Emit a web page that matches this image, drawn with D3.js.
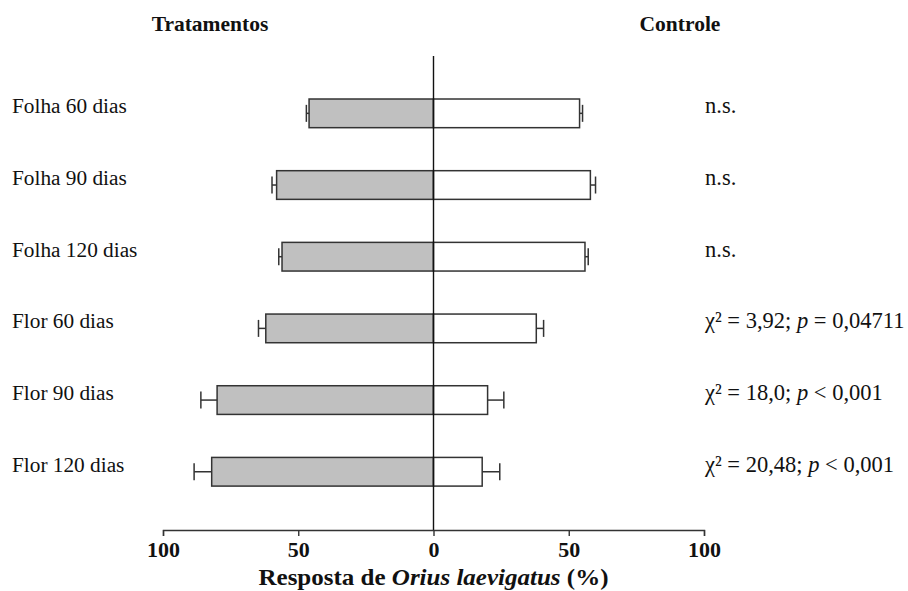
<!DOCTYPE html>
<html>
<head>
<meta charset="utf-8">
<script src="https://cdn.jsdelivr.net/npm/d3@7/dist/d3.min.js"></script>
<style>
  html, body { margin: 0; padding: 0; background: #fff; }
  svg { display: block; font-family: "Liberation Serif", "Times New Roman", Times, serif; }
</style>
</head>
<body>
<svg id="chart" width="908" height="591"></svg>
<script>
// Response of Orius laevigatus (%) to treated plants vs. control
const categories = ["Folha 60 dias", "Folha 90 dias", "Folha 120 dias", "Flor 60 dias", "Flor 90 dias", "Flor 120 dias"];
const tratamento = [46, 58, 56, 62, 80, 82];
const tratamentoErr = [1.0, 1.7, 1.2, 2.7, 6.0, 6.5];
const controle = [54, 58, 56, 38, 20, 18];
const controleErr = [1.1, 1.9, 1.2, 2.7, 6.0, 6.5];
// test result per row: chi-square, p operator, p value (null = n.s.)
const chi2 = [null, null, null, "3,92", "18,0", "20,48"];
const pOp = [null, null, null, "=", "<", "<"];
const pVal = [null, null, null, "0,04711", "0,001", "0,001"];
const tickValues = [-100, -50, 0, 50, 100];

const FONT = "Liberation Serif, Times New Roman, Times, serif";
const svg = d3.select("#chart");

const x = d3.scaleLinear().domain([-100, 100]).range([163, 704]);
const y = d3.scaleBand().domain(categories).range([77.5, 507.6])
  .paddingInner(0.6).paddingOuter(0.3);

const rows = categories.map((c, i) => ({
  cat: c, t: tratamento[i], te: tratamentoErr[i], c: controle[i], ce: controleErr[i],
  chi: chi2[i], op: pOp[i], p: pVal[i]
}));

const barStroke = "#333";
const capH = 17;

const g = svg.append("g");
rows.forEach(d => {
  const y0 = y(d.cat), bh = y.bandwidth(), yc = y0 + bh / 2;
  // treatment (left, grey)
  g.append("rect")
    .attr("x", x(-d.t)).attr("y", y0)
    .attr("width", x(0) - x(-d.t)).attr("height", bh)
    .attr("fill", "#c0c0c0").attr("stroke", barStroke).attr("stroke-width", 1.5);
  // control (right, white)
  g.append("rect")
    .attr("x", x(0)).attr("y", y0)
    .attr("width", x(d.c) - x(0)).attr("height", bh)
    .attr("fill", "#fff").attr("stroke", barStroke).attr("stroke-width", 1.5);
  // error bars
  [[-d.t, -(d.t + d.te)], [d.c, d.c + d.ce]].forEach(([a, b]) => {
    g.append("line").attr("x1", x(a)).attr("x2", x(b)).attr("y1", yc).attr("y2", yc)
      .attr("stroke", barStroke).attr("stroke-width", 1.5);
    g.append("line").attr("x1", x(b)).attr("x2", x(b)).attr("y1", yc - capH / 2).attr("y2", yc + capH / 2)
      .attr("stroke", barStroke).attr("stroke-width", 1.5);
  });
  // category label
  svg.append("text").attr("x", 12).attr("y", yc)
    .attr("font-size", 21.3).attr("fill", "#111").text(d.cat);
  // statistics
  const st = svg.append("text").attr("x", 705).attr("y", yc)
    .attr("font-size", 22.5).attr("fill", "#111");
  if (d.chi === null) {
    st.text("n.s.");
  } else {
    st.append("tspan").text("χ² = " + d.chi + "; ");
    st.append("tspan").attr("font-style", "italic").text("p");
    st.append("tspan").text(" " + d.op + " " + d.p);
  }
});

// centre line
svg.append("line").attr("x1", x(0)).attr("x2", x(0)).attr("y1", 56).attr("y2", 530)
  .attr("stroke", "#111").attr("stroke-width", 1.4);

// bottom axis
const axis = svg.append("g").attr("transform", "translate(0,530)")
  .call(d3.axisBottom(x).tickValues(tickValues).tickFormat(v => Math.abs(v))
    .tickSizeOuter(0).tickSize(6).tickPadding(7));
axis.select(".domain").attr("stroke", "#333").attr("stroke-width", 1.4);
axis.selectAll(".tick line").attr("stroke", "#333").attr("stroke-width", 1.4);
axis.selectAll(".tick text")
  .attr("font-family", FONT)
  .attr("font-size", 20).attr("font-weight", "bold").attr("fill", "#111")
  .attr("textLength", v => Math.abs(v) === 100 ? 33 : (v === 0 ? 11 : 22))
  .attr("lengthAdjust", "spacingAndGlyphs");

// axis title
const title = svg.append("text").attr("x", x(0)).attr("y", 585).attr("text-anchor", "middle")
  .attr("font-size", 22.5).attr("font-weight", "bold").attr("fill", "#111")
  .attr("textLength", 350).attr("lengthAdjust", "spacingAndGlyphs");
title.append("tspan").text("Resposta de ");
title.append("tspan").attr("font-style", "italic").text("Orius laevigatus");
title.append("tspan").text("  (%)");

// group headers
svg.append("text").attr("x", 210).attr("y", 31).attr("text-anchor", "middle")
  .attr("font-size", 21.5).attr("font-weight", "bold").attr("fill", "#111").text("Tratamentos");
svg.append("text").attr("x", 680).attr("y", 31).attr("text-anchor", "middle")
  .attr("font-size", 21.5).attr("font-weight", "bold").attr("fill", "#111").text("Controle");
</script>
</body>
</html>
